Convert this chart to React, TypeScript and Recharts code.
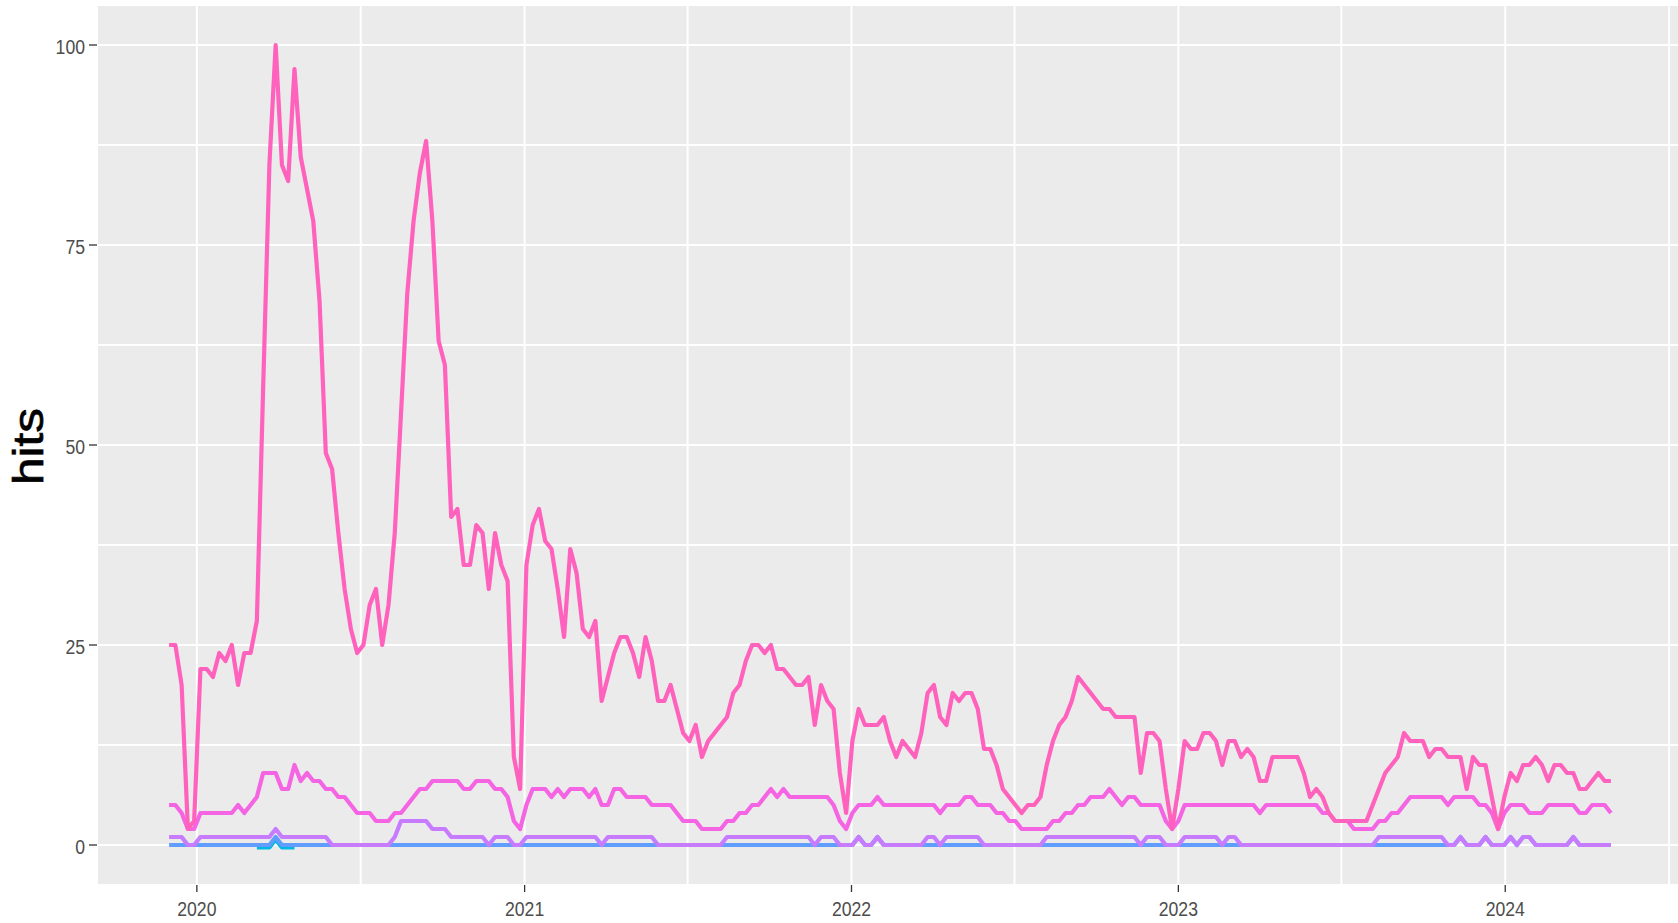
import React from 'react';
import { LineChart, Line, XAxis, YAxis, CartesianGrid } from 'recharts';

// ---- categories -------------------------------------------------------
const FIRST_WEEK = '2019-12-01'; // weekly observations (Sundays)
const yearBreaks = ['2020-01-01', '2021-01-01', '2022-01-01', '2023-01-01', '2024-01-01'];
const yearLabels = ['2020', '2021', '2022', '2023', '2024'];
const midYearBreaks = ['2020-07-02', '2021-07-02', '2022-07-02', '2023-07-02', '2024-07-02'];
const yTicks = [0, 25, 50, 75, 100];
const yMinorTicks = [12.5, 37.5, 62.5, 87.5];
const yTitle = 'hits';

// ---- series values (weekly hits) --------------------------------------
const pinkHits = [
  25, 25, 20, 2, 3, 22, 22, 21, 24, 23,
  25, 20, 24, 24, 28, 57, 85, 100, 85, 83,
  97, 86, 82, 78, 68, 49, 47, 39, 32, 27,
  24, 25, 30, 32, 25, 30, 39, 54, 69, 78,
  84, 88, 78, 63, 60, 41, 42, 35, 35, 40,
  39, 32, 39, 35, 33, 11, 7, 35, 40, 42,
  38, 37, 32, 26, 37, 34, 27, 26, 28, 18,
  21, 24, 26, 26, 24, 21, 26, 23, 18, 18,
  20, 17, 14, 13, 15, 11, 13, 14, 15, 16,
  19, 20, 23, 25, 25, 24, 25, 22, 22, 21,
  20, 20, 21, 15, 20, 18, 17, 9, 4, 13,
  17, 15, 15, 15, 16, 13, 11, 13, 12, 11,
  14, 19, 20, 16, 15, 19, 18, 19, 19, 17,
  12, 12, 10, 7, 6, 5, 4, 5, 5, 6,
  10, 13, 15, 16, 18, 21, 20, 19, 18, 17,
  17, 16, 16, 16, 16, 9, 14, 14, 13, 7,
  2, 7, 13, 12, 12, 14, 14, 13, 10, 13,
  13, 11, 12, 11, 8, 8, 11, 11, 11, 11,
  11, 9, 6, 7, 6, 4, 3, 3, 3, 3,
  3, 3, 5, 7, 9, 10, 11, 14, 13, 13,
  13, 11, 12, 12, 11, 11, 11, 7, 11, 10,
  10, 6, 2, 6, 9, 8, 10, 10, 11, 10,
  8, 10, 10, 9, 9, 7, 7, 8, 9, 8,
  8,
];

const magentaHits = [
  5, 5, 4, 2, 2, 4, 4, 4, 4, 4,
  4, 5, 4, 5, 6, 9, 9, 9, 7, 7,
  10, 8, 9, 8, 8, 7, 7, 6, 6, 5,
  4, 4, 4, 3, 3, 3, 4, 4, 5, 6,
  7, 7, 8, 8, 8, 8, 8, 7, 7, 8,
  8, 8, 7, 7, 6, 3, 2, 5, 7, 7,
  7, 6, 7, 6, 7, 7, 7, 6, 7, 5,
  5, 7, 7, 6, 6, 6, 6, 5, 5, 5,
  5, 4, 3, 3, 3, 2, 2, 2, 2, 3,
  3, 4, 4, 5, 5, 6, 7, 6, 7, 6,
  6, 6, 6, 6, 6, 6, 5, 3, 2, 4,
  5, 5, 5, 6, 5, 5, 5, 5, 5, 5,
  5, 5, 5, 4, 5, 5, 5, 6, 6, 5,
  5, 5, 4, 4, 3, 3, 2, 2, 2, 2,
  2, 3, 3, 4, 4, 5, 5, 6, 6, 6,
  7, 6, 5, 6, 6, 5, 5, 5, 5, 3,
  2, 3, 5, 5, 5, 5, 5, 5, 5, 5,
  5, 5, 5, 5, 4, 5, 5, 5, 5, 5,
  5, 5, 5, 5, 4, 4, 3, 3, 3, 2,
  2, 2, 2, 3, 3, 4, 4, 5, 6, 6,
  6, 6, 6, 6, 5, 6, 6, 6, 6, 5,
  5, 4, 2, 4, 5, 5, 5, 4, 4, 4,
  5, 5, 5, 5, 5, 4, 4, 5, 5, 5,
  4,
];

const purpleHits = [
  1, 1, 1, 0, 0, 1, 1, 1, 1, 1,
  1, 1, 1, 1, 1, 1, 1, 2, 1, 1,
  1, 1, 1, 1, 1, 1, 0, 0, 0, 0,
  0, 0, 0, 0, 0, 0, 1, 3, 3, 3,
  3, 3, 2, 2, 2, 1, 1, 1, 1, 1,
  1, 0, 1, 1, 1, 0, 0, 1, 1, 1,
  1, 1, 1, 1, 1, 1, 1, 1, 1, 0,
  1, 1, 1, 1, 1, 1, 1, 1, 0, 0,
  0, 0, 0, 0, 0, 0, 0, 0, 0, 1,
  1, 1, 1, 1, 1, 1, 1, 1, 1, 1,
  1, 1, 1, 0, 1, 1, 1, 0, 0, 0,
  1, 0, 0, 1, 0, 0, 0, 0, 0, 0,
  0, 1, 1, 0, 1, 1, 1, 1, 1, 1,
  0, 0, 0, 0, 0, 0, 0, 0, 0, 0,
  1, 1, 1, 1, 1, 1, 1, 1, 1, 1,
  1, 1, 1, 1, 1, 0, 1, 1, 1, 0,
  0, 0, 1, 1, 1, 1, 1, 1, 0, 1,
  1, 0, 0, 0, 0, 0, 0, 0, 0, 0,
  0, 0, 0, 0, 0, 0, 0, 0, 0, 0,
  0, 0, 0, 1, 1, 1, 1, 1, 1, 1,
  1, 1, 1, 1, 0, 0, 1, 0, 0, 0,
  1, 0, 0, 0, 1, 0, 1, 1, 0, 0,
  0, 0, 0, 0, 1, 0, 0, 0, 0, 0,
  0,
];

const blueHits = [
  0, 0, 0, 0, 0, 0, 0, 0, 0, 0,
  0, 0, 0, 0, 0, 0, 0, 1, 0, 0,
  0, 0, 0, 0, 0, 0, 0, 0, 0, 0,
  0, 0, 0, 0, 0, 0, 0, 0, 0, 0,
  0, 0, 0, 0, 0, 0, 0, 0, 0, 0,
  0, 0, 0, 0, 0, 0, 0, 0, 0, 0,
  0, 0, 0, 0, 0, 0, 0, 0, 0, 0,
  0, 0, 0, 0, 0, 0, 0, 0, 0, 0,
  0, 0, 0, 0, 0, 0, 0, 0, 0, 0,
  0, 0, 0, 0, 0, 0, 0, 0, 0, 0,
  0, 0, 0, 0, 0, 0, 0, 0, 0, 0,
  1, 0, 0, 1, 0, 0, 0, 0, 0, 0,
  0, 0, 0, 0, 0, 0, 0, 0, 0, 0,
  0, 0, 0, 0, 0, 0, 0, 0, 0, 0,
  0, 0, 0, 0, 0, 0, 0, 0, 0, 0,
  0, 0, 0, 0, 0, 0, 0, 0, 0, 0,
  0, 0, 0, 0, 0, 0, 0, 0, 0, 0,
  0, 0, 0, 0, 0, 0, 0, 0, 0, 0,
  0, 0, 0, 0, 0, 0, 0, 0, 0, 0,
  0, 0, 0, 0, 0, 0, 0, 0, 0, 0,
  0, 0, 0, 0, 0, 0, 1, 0, 0, 0,
  1, 0, 0, 0, 1, 0, 1, 1, 0, 0,
  0, 0, 0, 0, 1, 0, 0, 0, 0, 0,
  0,
];

// the cyan series only shows during a few weeks of spring 2020
const cyanFirstWeek = 14;
const cyanHits = [0, 0, 0, 1, 0, 0, 0];

// ---- colours ----------------------------------------------------------
const COLORS = {
  pink: '#FF62BC',
  magenta: '#F564E3',
  purple: '#C77CFF',
  blue: '#619CFF',
  cyan: '#00B9E3',
};

// ---- build the table the library needs --------------------------------
const DAY = 86400000;
const toMs = (s: string) => Date.parse(s + 'T00:00:00Z');
const firstMs = toMs(FIRST_WEEK);
const data = pinkHits.map((v, i) => {
  const ci = i - cyanFirstWeek;
  return {
    t: firstMs + i * 7 * DAY,
    pink: v,
    magenta: magentaHits[i],
    purple: purpleHits[i],
    blue: blueHits[i],
    cyan: ci >= 0 && ci < cyanHits.length ? cyanHits[ci] : null,
  };
});
const tMin = data[0].t;
const tMax = data[data.length - 1].t;
const span = tMax - tMin;
const xDomain = [tMin - 0.05 * span, tMax + 0.05 * span];
const yearMs = yearBreaks.map(toMs);
const midYearMs = midYearBreaks.map(toMs);

const FONT = "'Liberation Sans', Arial, sans-serif";
const LINE_W = 4.2;

const XTick = (props: any) => {
  const { x, y, payload } = props;
  const idx = yearMs.indexOf(payload.value);
  const label = idx >= 0 ? yearLabels[idx] : String(new Date(payload.value).getUTCFullYear());
  return (
    <g transform={`translate(${x},${y})`}>
      <text
        transform="scale(0.84,1)"
        textAnchor="middle"
        dy={15}
        fill="#4D4D4D"
        fontSize={21}
        fontFamily={FONT}
      >
        {label}
      </text>
    </g>
  );
};

const YTick = (props: any) => {
  const { x, y, payload } = props;
  return (
    <g transform={`translate(${x},${y})`}>
      <text
        transform="scale(0.84,1)"
        textAnchor="end"
        dy={9}
        fill="#4D4D4D"
        fontSize={21}
        fontFamily={FONT}
      >
        {payload.value}
      </text>
    </g>
  );
};

const YTitle = () => (
  <text
    transform="translate(42.5,446.5) rotate(-90)"
    textAnchor="middle"
    fill="#000000"
    stroke="#000000"
    strokeWidth={0.7}
    fontSize={43}
    fontFamily={FONT}
    textLength={77}
    lengthAdjust="spacingAndGlyphs"
  >
    {yTitle}
  </text>
);

export default function App() {
  return (
    <div
      style={{
        position: 'absolute',
        left: 0,
        top: 0,
        width: 1678,
        height: 923,
        overflow: 'hidden',
        background: '#FFFFFF',
      }}
    >
      <style>{`.cyan-offset path { transform: translateY(2.5px); }`}</style>
      <LineChart
        width={1690}
        height={923}
        data={data}
        margin={{ top: 5, right: 7, bottom: 0, left: 0 }}
      >
        <CartesianGrid
          fill="#EBEBEB"
          fillOpacity={1}
          stroke="#FFFFFF"
          strokeWidth={2}
          xAxisId="minor"
          yAxisId="minor"
        />
        <CartesianGrid stroke="#FFFFFF" strokeWidth={2} xAxisId="main" yAxisId="main" />
        <XAxis
          xAxisId="main"
          dataKey="t"
          type="number"
          domain={xDomain}
          allowDataOverflow
          ticks={yearMs}
          interval={0}
          tick={<XTick />}
          tickSize={7}
          tickMargin={9}
          tickLine={{ stroke: '#333333', strokeWidth: 1.3 }}
          axisLine={false}
          height={38}
        />
        <XAxis
          xAxisId="minor"
          dataKey="t"
          type="number"
          domain={xDomain}
          allowDataOverflow
          ticks={midYearMs}
          interval={0}
          hide
        />
        <YAxis
          yAxisId="main"
          type="number"
          domain={[-5, 105]}
          allowDataOverflow
          ticks={yTicks}
          interval={0}
          tick={<YTick />}
          tickSize={8}
          tickMargin={4}
          tickLine={{ stroke: '#333333', strokeWidth: 1.3 }}
          axisLine={false}
          width={97}
          label={<YTitle />}
        />
        <YAxis
          yAxisId="minor"
          type="number"
          domain={[-5, 105]}
          allowDataOverflow
          ticks={yMinorTicks}
          interval={0}
          hide
        />
        <Line
          xAxisId="main"
          yAxisId="main"
          className="cyan-offset"
          dataKey="cyan"
          stroke={COLORS.cyan}
          strokeWidth={LINE_W}
          strokeLinejoin="round"
          dot={false}
          activeDot={false}
          isAnimationActive={false}
          connectNulls={false}
        />
        <Line
          xAxisId="main"
          yAxisId="main"
          dataKey="blue"
          stroke={COLORS.blue}
          strokeWidth={LINE_W}
          strokeLinejoin="round"
          dot={false}
          activeDot={false}
          isAnimationActive={false}
        />
        <Line
          xAxisId="main"
          yAxisId="main"
          dataKey="purple"
          stroke={COLORS.purple}
          strokeWidth={LINE_W}
          strokeLinejoin="round"
          dot={false}
          activeDot={false}
          isAnimationActive={false}
        />
        <Line
          xAxisId="main"
          yAxisId="main"
          dataKey="magenta"
          stroke={COLORS.magenta}
          strokeWidth={LINE_W}
          strokeLinejoin="round"
          dot={false}
          activeDot={false}
          isAnimationActive={false}
        />
        <Line
          xAxisId="main"
          yAxisId="main"
          dataKey="pink"
          stroke={COLORS.pink}
          strokeWidth={LINE_W}
          strokeLinejoin="round"
          dot={false}
          activeDot={false}
          isAnimationActive={false}
        />
      </LineChart>
    </div>
  );
}
